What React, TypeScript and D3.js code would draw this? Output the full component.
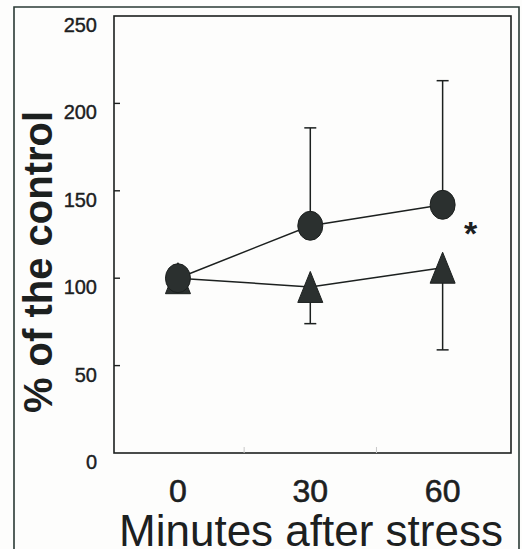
import React from 'react';
import * as d3 from 'd3';

// values
const minutes = [0, 30, 60];
const circleMean = [100, 130, 142];
const circleErr = [0, 56, 71];
const triangleMean = [100, 95, 106];
const triangleErr = [0, 21, 47];
const yTicks = [0, 50, 100, 150, 200, 250];
const xTicks = [0, 30, 60];
const minorXTicks = [15, 45];

const W = 522;
const H = 549;
const plotLeft = 114;
const plotRight = 511;
const plotTop = 16;
const plotBottom = 453;

export default function App() {
    const xScale = d3.scaleLinear().domain([-14.5, 75.5]).range([plotLeft, plotRight]);
    const yScale = d3.scaleLinear().domain([0, 250]).range([plotBottom, plotTop]);

    const line = d3.line<number>()
        .x((d, i) => xScale(minutes[i]))
        .y(d => yScale(d));

    const ink = '#1c201f';
    const markerFill = '#2b302f';
    const capHalf = 6;
    const rx = 12.5, ry = 14.5;
    const triW = 25, triH = 31;

    return (
        <div style={{ position: 'absolute', left: 0, top: 0 }}>
            <svg width={W} height={H} style={{ display: 'block', background: '#fdfdfc' }}
                fontFamily="'Liberation Sans', Arial, sans-serif">
                {/* outer frame */}
                <path d={`M14,${H} L14,7 L519,7 L519,${H}`} fill="none" stroke="#2a3a35" strokeWidth={1.6} />

                {/* plot box */}
                <rect x={plotLeft} y={plotTop} width={plotRight - plotLeft} height={plotBottom - plotTop}
                    fill="none" stroke={ink} strokeWidth={1.6} />

                {/* y ticks, inward */}
                {yTicks.map(t => (
                    <g key={'y' + t}>
                        {t > 0 && t < 250 && (
                            <line x1={plotLeft} x2={plotLeft + 6} y1={yScale(t)} y2={yScale(t)} stroke={ink} strokeWidth={1.4} />
                        )}
                        <text x={97} y={yScale(t) + 9} dy="0.35em" textAnchor="end" fontSize={20} fill={ink}
                            stroke={ink} strokeWidth={0.4}>{t}</text>
                    </g>
                ))}

                {/* faint minor x ticks */}
                {minorXTicks.map(t => (
                    <line key={'mx' + t} x1={xScale(t)} x2={xScale(t)} y1={plotBottom} y2={plotBottom - 6}
                        stroke="#c8c8c8" strokeWidth={1} />
                ))}

                {/* x tick labels */}
                {xTicks.map(t => (
                    <text key={'x' + t} x={xScale(t)} y={502} textAnchor="middle" fontSize={32} fill={ink}
                        stroke={ink} strokeWidth={0.6}>{t}</text>
                ))}

                {/* axis titles */}
                <text x={311} y={546} textAnchor="middle" fontSize={44} fill={ink}>Minutes after stress</text>
                <text transform={`translate(52, 262) rotate(-90)`} textAnchor="middle" fontSize={40}
                    fontWeight="bold" fill={ink}>% of the control</text>

                {/* error bars: circles up, triangles down */}
                {minutes.map((m, i) => circleErr[i] > 0 && (
                    <g key={'ce' + m} stroke={ink} strokeWidth={1.5}>
                        <line x1={xScale(m)} x2={xScale(m)} y1={yScale(circleMean[i])} y2={yScale(circleMean[i] + circleErr[i])} />
                        <line x1={xScale(m) - capHalf} x2={xScale(m) + capHalf}
                            y1={yScale(circleMean[i] + circleErr[i])} y2={yScale(circleMean[i] + circleErr[i])} />
                    </g>
                ))}
                {minutes.map((m, i) => triangleErr[i] > 0 && (
                    <g key={'te' + m} stroke={ink} strokeWidth={1.5}>
                        <line x1={xScale(m)} x2={xScale(m)} y1={yScale(triangleMean[i])} y2={yScale(triangleMean[i] - triangleErr[i])} />
                        <line x1={xScale(m) - capHalf} x2={xScale(m) + capHalf}
                            y1={yScale(triangleMean[i] - triangleErr[i])} y2={yScale(triangleMean[i] - triangleErr[i])} />
                    </g>
                ))}

                {/* connecting lines */}
                <path d={line(circleMean) || ''} fill="none" stroke={ink} strokeWidth={1.5} />
                <path d={line(triangleMean) || ''} fill="none" stroke={ink} strokeWidth={1.5} />

                {/* triangles */}
                {triangleMean.map((v, i) => {
                    const cx = xScale(minutes[i]);
                    const cy = yScale(v);
                    return (
                        <path key={'t' + i}
                            d={`M${cx},${cy - triH / 2} L${cx + triW / 2},${cy + triH / 2} L${cx - triW / 2},${cy + triH / 2} Z`}
                            fill={markerFill} stroke={ink} strokeWidth={1} />
                    );
                })}

                {/* circles */}
                {circleMean.map((v, i) => (
                    <ellipse key={'c' + i} cx={xScale(minutes[i])} cy={yScale(v)} rx={rx} ry={ry}
                        fill={markerFill} stroke={ink} strokeWidth={1} />
                ))}

                {/* significance mark */}
                <text x={xScale(60) + 28} y={yScale(circleMean[2]) + 40} textAnchor="middle" fontSize={34}
                    fontWeight="bold" fill={ink}>*</text>
            </svg>
        </div>
    );
}
